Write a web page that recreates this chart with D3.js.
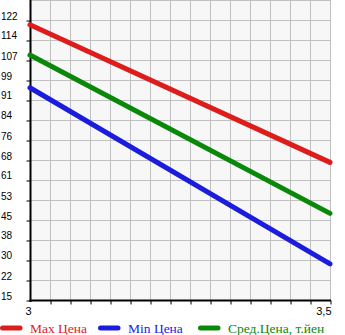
<!DOCTYPE html>
<html><head><meta charset="utf-8">
<script src="https://cdn.jsdelivr.net/npm/d3@7"></script>
<style>body{margin:0;background:#fff;}svg{display:block;}</style>
</head><body>
<svg id="c" width="345" height="335"></svg>
<script>
const xValues = [3, 3.5];
const maxPrice = [120.2, 67.6];
const minPrice = [96.1, 28.8];
const avgPrice = [108.6, 48.1];
const yTickValues = [15,22.64,30.29,37.93,45.57,53.21,60.86,68.5,76.14,83.79,91.43,99.07,106.71,114.36,122];
const yTickLabels = ["15","22","30","38","45","53","61","68","76","84","91","99","107","114","122"];
const xTickLabels = ["3","3,5"];
const seriesNames = ["Max Цена","Min Цена","Сред.Цена, т.йен"];
const seriesColors = ["#dd1c1c","#1c1cdd","#0a880a"];

const svg = d3.select("#c");
const L = 31, R = 330, T = 0, B = 300;
const yStep = (122 - 15) / 14;
const x = d3.scaleLinear().domain([3, 3.5]).range([L - 1, R]);
const y = d3.scaleLinear().domain([15, 15 + 15 * yStep]).range([B, T]);

svg.append("rect").attr("x", L).attr("y", T).attr("width", R - L).attr("height", B - T).attr("fill", "#f7f7f7");

// grid
const gx = d3.range(1, 16).map(i => 3 + i * 0.5 / 15);
svg.append("g").selectAll("line").data(gx).join("line")
  .attr("x1", d => Math.round(x(d)) + 0.5).attr("x2", d => Math.round(x(d)) + 0.5)
  .attr("y1", T).attr("y2", B).attr("stroke", "#c0c0c0").attr("stroke-width", 1);
const gy = d3.range(0, 15).map(i => 15 + (i + 1) * yStep);
svg.append("g").selectAll("line").data(gy).join("line")
  .attr("x1", L).attr("x2", R + 1)
  .attr("y1", d => Math.round(y(d)) + 0.5).attr("y2", d => Math.round(y(d)) + 0.5)
  .attr("stroke", "#c0c0c0").attr("stroke-width", 1);

// axes
const yAxis = d3.axisLeft(y).tickValues(yTickValues).tickSize(4).tickFormat("");
const gya = svg.append("g").attr("transform", `translate(${L - 0.5},0.5)`).call(yAxis);
gya.select(".domain").remove();
gya.selectAll(".tick line").attr("stroke", "#000");
svg.append("line").attr("x1", L - 0.5).attr("x2", L - 0.5).attr("y1", 0).attr("y2", B + 2).attr("stroke", "#000").attr("stroke-width", 2);

svg.append("g").selectAll("text").data(yTickValues).join("text")
  .attr("x", 1).attr("y", d => y(d) - 0.5)
  .attr("font-family", "Liberation Sans, Arial, sans-serif").attr("font-size", 10).attr("fill", "#000")
  .text((d, i) => yTickLabels[i]);

const xAxis = d3.axisBottom(x).tickValues(gx).tickSize(4).tickFormat("");
const gxa = svg.append("g").attr("transform", `translate(0.5,${B + 0.5})`).call(xAxis);
gxa.select(".domain").remove();
gxa.selectAll(".tick line").attr("stroke", "#000");
svg.append("line").attr("x1", L - 1.5).attr("x2", R + 1).attr("y1", B + 0.5).attr("y2", B + 0.5).attr("stroke", "#000").attr("stroke-width", 2);

svg.append("g").selectAll("text").data(xValues).join("text")
  .attr("x", d => x(d) + 1.5).attr("y", 315).attr("text-anchor", "end")
  .attr("font-family", "Liberation Sans, Arial, sans-serif").attr("font-size", 11).attr("fill", "#000")
  .text((d, i) => xTickLabels[i]);

// lines
const series = [maxPrice, minPrice, avgPrice];
const line = d3.line().x((d, i) => x(xValues[i])).y(d => y(d));
svg.append("g").selectAll("path").data(series).join("path")
  .attr("d", d => line(d)).attr("fill", "none")
  .attr("stroke", (d, i) => seriesColors[i]).attr("stroke-width", 5).attr("stroke-linecap", "round");

// legend
const legX = [0, 98, 198];
const lg = svg.append("g").selectAll("g").data(seriesNames).join("g")
  .attr("transform", (d, i) => `translate(${legX[i]},328)`);
lg.append("line").attr("x1", 2.5).attr("x2", 20).attr("y1", 0).attr("y2", 0)
  .attr("stroke", (d, i) => seriesColors[i]).attr("stroke-width", 5).attr("stroke-linecap", "round");
lg.append("text").attr("x", 30).attr("y", 4.5)
  .attr("font-family", "Liberation Serif, Times New Roman, serif").attr("font-size", 13.5)
  .attr("fill", (d, i) => seriesColors[i]).text(d => d);
</script>
</body></html>
